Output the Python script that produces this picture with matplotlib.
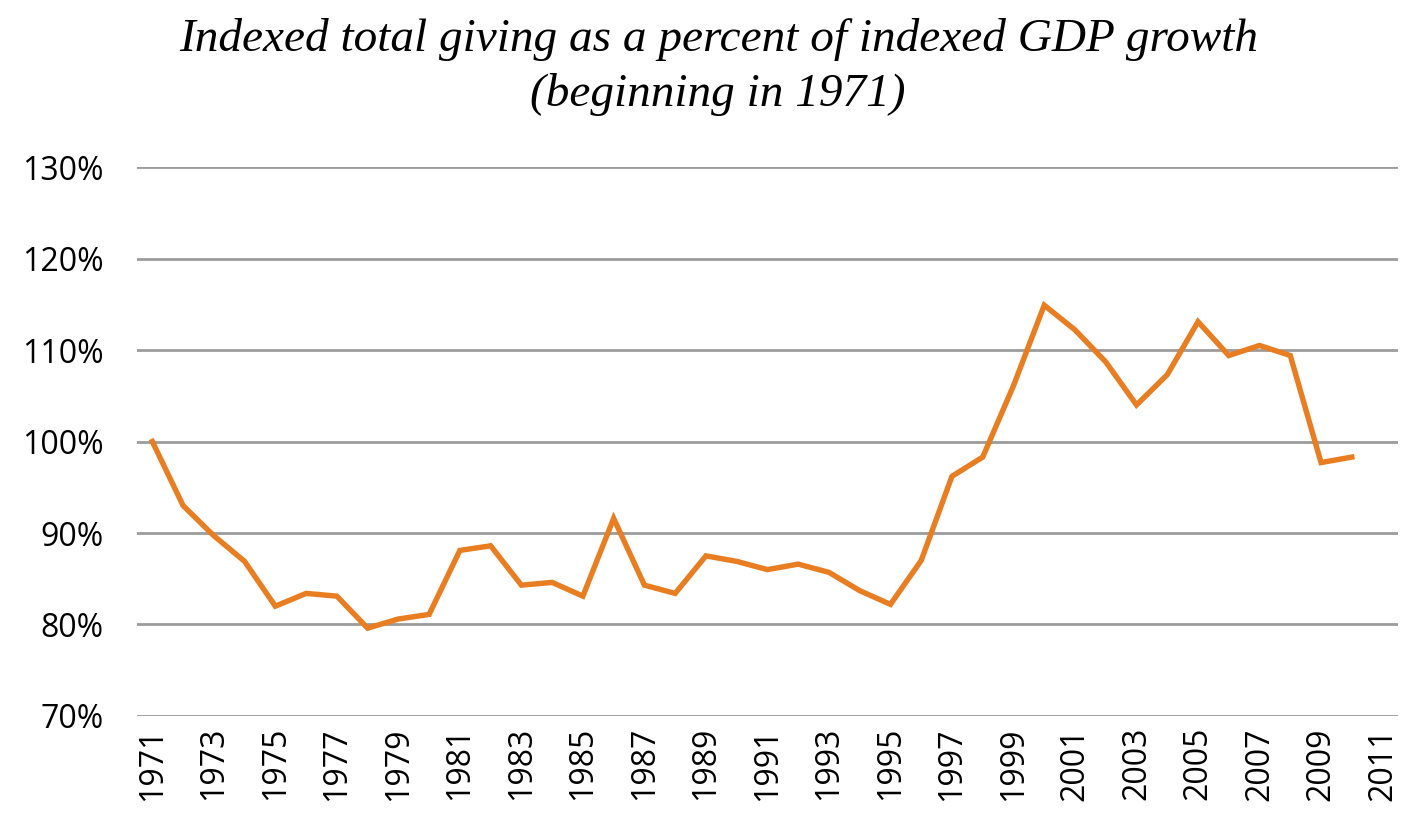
import numpy as np
import matplotlib.pyplot as plt

years = list(range(1971, 2011))
pct = [100.0, 93.0, 89.7, 86.9, 82.0, 83.4, 83.1, 79.6, 80.6, 81.1,
       88.1, 88.6, 84.3, 84.6, 83.1, 91.6, 84.3, 83.4, 87.5, 86.9,
       86.0, 86.6, 85.7, 83.7, 82.2, 87.0, 96.2, 98.3, 106.1, 114.9,
       112.2, 108.7, 104.0, 107.3, 113.1, 109.4, 110.5, 109.4, 97.7, 98.3]
tick_years = list(range(1971, 2012, 2))
y_ticks = [70, 80, 90, 100, 110, 120, 130]

fig = plt.figure(figsize=(14.25, 8.15), dpi=100)
ax = fig.add_axes([0.0961, 0.1215, 0.8849, 0.6735])

ax.plot(years, pct, color='#E87D21', lw=3.9, solid_joinstyle='miter', zorder=3)

ax.set_xlim(1970.5, 2011.5)
ax.set_ylim(70, 130)
ax.set_yticks(y_ticks)
ax.set_yticklabels(['%d%%' % v for v in y_ticks], fontsize=23, family='Open Sans')
ax.set_xticks(tick_years)
ax.set_xticklabels([str(y) for y in tick_years], rotation=90, fontsize=23, family='Open Sans')
ax.tick_params(length=0)
ax.tick_params(axis='y', pad=24)
ax.tick_params(axis='x', pad=8)

for s in ax.spines.values():
    s.set_visible(False)
ax.grid(axis='y', color='#9C9C9C', lw=2.0)
ax.set_axisbelow(True)

fig.text(0.504, 0.951, 'Indexed total giving as a percent of indexed GDP growth',
         ha='center', va='center', fontsize=34, style='italic', family='Liberation Serif')
fig.text(0.504, 0.884, '(beginning in 1971)',
         ha='center', va='center', fontsize=34, style='italic', family='Liberation Serif')

fig.savefig('out.png', dpi=100)
